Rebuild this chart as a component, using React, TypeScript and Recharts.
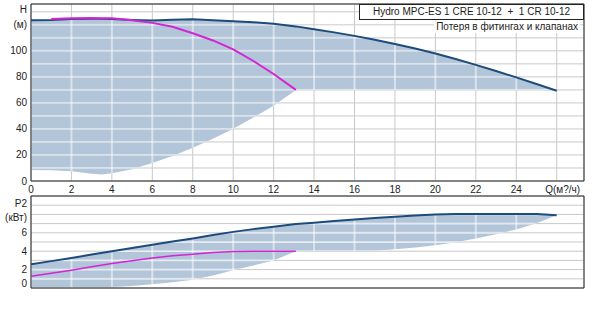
import React from 'react';
import {
  ComposedChart, Area, Line, XAxis, YAxis, CartesianGrid, ReferenceArea,
} from 'recharts';

// ---------- data ----------
const qTop = [0, 1, 2, 3, 3.5, 4, 5, 6, 7, 8, 9, 10, 11, 12, 13.1, 14, 15, 16, 17, 18, 19, 20, 21, 22, 23, 24, 25, 26];
const hMax = [123.5, 123.8, 124.5, 124.6, 124.6, 124.5, 123.8, 123.3, 123.9, 124.2, 123.6, 122.8, 122, 120.8, 118.8, 116.6, 114.2, 111.5, 108.5, 105.2, 101.8, 98, 93.7, 89.2, 84.5, 79.6, 74.5, 69.3];
const hMin = [8.5, 8.3, 7.5, 5.5, 5, 6, 9, 13.8, 19.3, 25.5, 32.5, 40.2, 48.8, 57.8, 70, 70, 70, 70, 70, 70, 70, 70, 70, 70, 70, 70, 70, 69.3];
const hPink: (number | null)[] = [null, 124.5, 125, 125.2, 125.1, 125, 123.5, 121.5, 118.5, 113.5, 108, 101.2, 92.2, 82.2, 70, null, null, null, null, null, null, null, null, null, null, null, null, null];

const qBot = [0, 1, 2, 3, 4, 5, 6, 7, 8, 9, 10, 11, 12, 13.1, 14, 15, 16, 17, 18, 19, 20, 21, 22, 23, 24, 25, 26];
const pMax = [2.58, 2.92, 3.27, 3.63, 4.0, 4.35, 4.7, 5.05, 5.38, 5.75, 6.1, 6.4, 6.65, 6.95, 7.09, 7.28, 7.45, 7.6, 7.74, 7.88, 8.0, 8.03, 8.04, 8.04, 8.04, 8.04, 7.9];
const pMin = [0, 0, 0, 0, 0.1, 0.22, 0.4, 0.62, 0.9, 1.35, 1.93, 2.45, 3.0, 4.0, 4.04, 4.04, 4.04, 4.05, 4.2, 4.4, 4.66, 4.98, 5.38, 5.85, 6.37, 7.05, 7.9];
const pPink: (number | null)[] = [1.28, 1.6, 1.93, 2.3, 2.66, 2.97, 3.25, 3.5, 3.68, 3.85, 3.97, 4.0, 4.0, 4.0, null, null, null, null, null, null, null, null, null, null, null, null, null];

const qTicks = [0, 2, 4, 6, 8, 10, 12, 14, 16, 18, 20, 22, 24, 26];
const qLabels: Record<number, string> = {
  0: '0', 2: '2', 4: '4', 6: '6', 8: '8', 10: '10', 12: '12', 14: '14', 16: '16',
  18: '18', 20: '20', 22: '22', 24: '24', 26: 'Q(м?/ч)',
};
const hTicks = [0, 10, 20, 30, 40, 50, 60, 70, 80, 90, 100, 110, 120, 130];
const hLabels: Record<number, string> = { 0: '0', 20: '20', 40: '40', 60: '60', 80: '80', 100: '100', 120: '(м)', 130: 'H' };
const pTicks = [0, 1, 2, 3, 4, 5, 6, 7, 8, 9, 10];
const pLabels: Record<number, string> = { 0: '0', 2: '2', 4: '4', 6: '6', 8: '(кВт)', 9: 'P2' };

const TITLE = 'Hydro MPC-ES 1 CRE 10-12  +  1 CR 10-12';
const SUBTITLE = 'Потеря в фитингах и клапанах';

// ---------- layout / style ----------
const W = 600;
const Y_AXIS_W = 31;
const RIGHT_M = 16;
const X_MAX = 27.35;
const H_MAX = 136;
const P_MAX = 10;
const TOP_H = 196;
const TOP_M = 4;
const X_AXIS_H = 15;
const BOT_TOP = 192;
const BOT_H = 100;
const BOT_M = 4;
const BOT_XAXIS_H = 4;

const FILL = '#b3c5d8';
const GRID = '#c9c9c9';
const BLUE = '#1d4b7a';
const PINK = '#d424d4';
const TXT = '#222';
const FONT = '"Liberation Sans", Arial, sans-serif';

const PLOT_W = W - Y_AXIS_W - RIGHT_M;
const TOP_PLOT_H = TOP_H - TOP_M - X_AXIS_H;
const BOT_PLOT_H = BOT_H - BOT_M - BOT_XAXIS_H;
const X_PERIOD = (PLOT_W * 2) / X_MAX;
const H_PERIOD = (TOP_PLOT_H * 10) / H_MAX;
const P_PERIOD = (BOT_PLOT_H * 1) / P_MAX;

const topData = qTop.map((q, i) => ({ q, max: hMax[i], min: hMin[i], pink: hPink[i] }));
const botData = qBot.map((q, i) => ({ q, max: pMax[i], min: pMin[i], pink: pPink[i] }));

const makeYTick = (labels: Record<number, string>, shifts: Record<number, number>) => (props: any) => {
  const { x, y, payload } = props;
  const label = labels[payload.value];
  if (!label) return <g />;
  return (
    <text x={x} y={y + (shifts[payload.value] || 0)} dy="0.35em" textAnchor="end" fontSize={10} fontFamily={FONT} fill={TXT}>
      {label}
    </text>
  );
};

const XTick = (props: any) => {
  const { x, y, payload } = props;
  const label = qLabels[payload.value];
  if (!label) return <g />;
  const isUnit = payload.value === 26;
  return (
    <text x={x + (isUnit ? 6 : 0)} y={y} dy="0.71em" textAnchor="middle" fontSize={10} fontFamily={FONT} fill={TXT}>
      {label}
    </text>
  );
};

const topYTick = makeYTick(hLabels, { 130: -2 });
const botYTick = makeYTick(pLabels, { 0: -4.5, 8: 3, 9: -2 });

export default function App() {
  return (
    <div style={{ position: 'absolute', left: 0, top: 0, width: W, height: 324, background: '#fff', fontFamily: FONT }}>
      <div style={{ position: 'absolute', left: 0, top: 0 }}>
        <ComposedChart width={W} height={TOP_H} data={topData} margin={{ top: TOP_M, right: RIGHT_M, left: 0, bottom: 0 }}>
          <defs>
            <pattern id="patTop" patternUnits="userSpaceOnUse" x={Y_AXIS_W - 1} y={TOP_M + TOP_PLOT_H - 1} width={X_PERIOD} height={H_PERIOD}>
              <rect x={0} y={0} width={X_PERIOD} height={H_PERIOD} fill={FILL} />
              <line x1={1} y1={0} x2={1} y2={H_PERIOD} stroke="#ffffff" strokeWidth={1} />
              <line x1={0} y1={1} x2={X_PERIOD} y2={1} stroke="#ffffff" strokeWidth={1} />
            </pattern>
          </defs>
          <CartesianGrid stroke={GRID} strokeWidth={1} />
          <XAxis
            type="number" dataKey="q" domain={[0, X_MAX]} ticks={qTicks} interval={0}
            allowDataOverflow height={X_AXIS_H} tickSize={0} tickMargin={5}
            axisLine={false} tickLine={false} tick={XTick}
          />
          <YAxis
            type="number" domain={[0, H_MAX]} ticks={hTicks} interval={0}
            allowDataOverflow width={Y_AXIS_W} tickSize={0} tickMargin={4}
            axisLine={false} tickLine={false} tick={topYTick}
          />
          <Area
            type="linear" dataKey={(d: any) => [d.min, d.max]} stroke="none"
            fill="url(#patTop)" fillOpacity={1} isAnimationActive={false}
          />
          <Line type="linear" dataKey="max" stroke={BLUE} strokeWidth={2} dot={false} isAnimationActive={false} />
          <Line type="linear" dataKey="pink" stroke={PINK} strokeWidth={2} dot={false} connectNulls={false} isAnimationActive={false} />
          <ReferenceArea x1={0} x2={X_MAX} y1={0} y2={H_MAX} fill="none" fillOpacity={0} stroke={TXT} strokeWidth={1} />
        </ComposedChart>
      </div>
      <div style={{ position: 'absolute', left: 0, top: BOT_TOP }}>
        <ComposedChart width={W} height={BOT_H} data={botData} margin={{ top: BOT_M, right: RIGHT_M, left: 0, bottom: 0 }}>
          <defs>
            <pattern id="patBot" patternUnits="userSpaceOnUse" x={Y_AXIS_W - 1} y={BOT_M + BOT_PLOT_H - 1} width={X_PERIOD} height={P_PERIOD}>
              <rect x={0} y={0} width={X_PERIOD} height={P_PERIOD} fill={FILL} />
              <line x1={1} y1={0} x2={1} y2={P_PERIOD} stroke="#ffffff" strokeWidth={1} />
              <line x1={0} y1={1} x2={X_PERIOD} y2={1} stroke="#ffffff" strokeWidth={1} />
            </pattern>
          </defs>
          <CartesianGrid stroke={GRID} strokeWidth={1} />
          <XAxis
            type="number" dataKey="q" domain={[0, X_MAX]} ticks={qTicks} interval={0}
            allowDataOverflow height={BOT_XAXIS_H} tick={false} axisLine={false} tickLine={false}
          />
          <YAxis
            type="number" domain={[0, P_MAX]} ticks={pTicks} interval={0}
            allowDataOverflow width={Y_AXIS_W} tickSize={0} tickMargin={4}
            axisLine={false} tickLine={false} tick={botYTick}
          />
          <Area
            type="linear" dataKey={(d: any) => [d.min, d.max]} stroke="none"
            fill="url(#patBot)" fillOpacity={1} isAnimationActive={false}
          />
          <Line type="linear" dataKey="max" stroke={BLUE} strokeWidth={2} dot={false} isAnimationActive={false} />
          <Line type="linear" dataKey="pink" stroke={PINK} strokeWidth={1.5} dot={false} connectNulls={false} isAnimationActive={false} />
          <ReferenceArea x1={0} x2={X_MAX} y1={0} y2={P_MAX} fill="none" fillOpacity={0} stroke={TXT} strokeWidth={1} />
        </ComposedChart>
      </div>
      <div
        style={{
          position: 'absolute', left: 359, top: 4, width: W - RIGHT_M - 359, height: 16,
          boxSizing: 'border-box', border: `1px solid ${TXT}`, background: '#fff',
          fontSize: 10, lineHeight: '14px', textAlign: 'center', color: TXT, whiteSpace: 'pre',
        }}
      >
        {TITLE}
      </div>
      <div
        style={{
          position: 'absolute', right: 20, top: 21, height: 12, background: '#fff',
          fontSize: 10, lineHeight: '12px', color: TXT, whiteSpace: 'pre', padding: '0 2px',
        }}
      >
        {SUBTITLE}
      </div>
    </div>
  );
}
